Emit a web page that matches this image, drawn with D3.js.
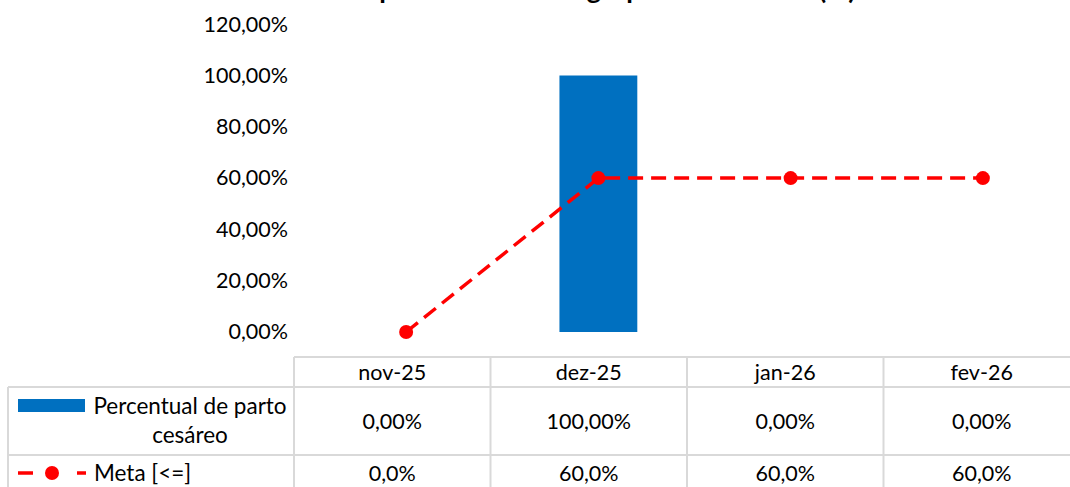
<!DOCTYPE html>
<html><head><meta charset="utf-8">
<script src="https://cdn.jsdelivr.net/npm/d3@7"></script>
<style>body{margin:0;background:#fff}svg{display:block}text{font-family:Lato,"Liberation Sans",sans-serif;fill:#000}</style>
</head><body>
<script>
const title = "Percentual de parto cesáreo no grupo 1 de Robson (%)";
const categories = ["nov-25","dez-25","jan-26","fev-26"];
const barName = "Percentual de parto cesáreo";
const barValues = [0, 1.0, 0, 0];
const metaName = "Meta [<=]";
const metaValues = [0, 0.6, 0.6, 0.6];
const yTicks = [0, 0.2, 0.4, 0.6, 0.8, 1.0, 1.2];

const W = 1070, H = 487;
const svg = d3.select("body").append("svg").attr("width", W).attr("height", H);
const fs = 21.5;
const pct2 = v => d3.format(".2f")(v*100).replace(".", ",") + "%";
const pct1 = v => d3.format(".1f")(v*100).replace(".", ",") + "%";

// title (clipped at the top edge, as in the reference)
svg.append("text").attr("x", 532).attr("y", -1).attr("text-anchor","middle")
  .style("font-weight","bold").style("font-size","27px").text(title);

const y = d3.scaleLinear().domain([0,1.2]).range([332, 24.2]);
const x = d3.scaleBand().domain(categories).range([310, 1079]).padding(0);
const bw = x.bandwidth()*0.405;

const yAxis = svg.append("g").attr("transform","translate(288,0)")
  .call(d3.axisLeft(y).tickValues(yTicks).tickSize(0).tickPadding(0).tickFormat(pct2));
yAxis.select(".domain").remove();
yAxis.selectAll("text").style("font-size", fs+"px").style("font-family","Lato,'Liberation Sans',sans-serif").attr("fill","#000");

svg.append("g").selectAll("rect").data(categories).join("rect")
  .attr("x", (c)=> x(c) + (x.bandwidth()-bw)/2)
  .attr("y", (c,i)=> y(barValues[i]))
  .attr("width", bw)
  .attr("height", (c,i)=> y(0)-y(barValues[i]))
  .attr("fill","#0070C0");

const line = d3.line().x((d,i)=> x(categories[i])+x.bandwidth()/2).y(d=>y(d));
svg.append("path").datum(metaValues).attr("d", line).attr("fill","none")
  .attr("stroke","#FF0000").attr("stroke-width",3.5).attr("stroke-dasharray","15,8");
svg.append("g").selectAll("circle").data(metaValues).join("circle")
  .attr("cx",(d,i)=> x(categories[i])+x.bandwidth()/2).attr("cy", d=>y(d)).attr("r",7).attr("fill","#FF0000");

// data table
const t = d3.scaleBand().domain(categories).range([294, 1080]);
const grid = "#d9d9d9";
const g = svg.append("g").attr("stroke", grid).attr("stroke-width", 2);
g.append("line").attr("x1",294).attr("x2",1080).attr("y1",357).attr("y2",357);
g.append("line").attr("x1",8).attr("x2",1080).attr("y1",387).attr("y2",387);
g.append("line").attr("x1",8).attr("x2",1080).attr("y1",455).attr("y2",455);
g.append("line").attr("x1",8).attr("x2",8).attr("y1",387).attr("y2",490);
g.selectAll("line.v").data(categories).join("line").attr("class","v")
  .attr("x1",c=>t(c)).attr("x2",c=>t(c)).attr("y1",357).attr("y2",490);

const cx = c => t(c)+t.bandwidth()/2;
svg.append("g").selectAll("text").data(categories).join("text")
  .attr("x",cx).attr("y",372).attr("dy","0.35em").attr("text-anchor","middle").style("font-size",fs+"px").text(c=>c);
svg.append("g").selectAll("text").data(barValues).join("text")
  .attr("x",(d,i)=>cx(categories[i])).attr("y",421).attr("dy","0.35em").attr("text-anchor","middle").style("font-size",fs+"px").text(pct2);
svg.append("g").selectAll("text").data(metaValues).join("text")
  .attr("x",(d,i)=>cx(categories[i])).attr("y",473).attr("dy","0.35em").attr("text-anchor","middle").style("font-size",fs+"px").text(pct1);

// legend keys
const lfs = 22.5;
svg.append("rect").attr("x",18).attr("y",399).attr("width",67).attr("height",13).attr("fill","#0070C0");
const words = barName.split(" ");
svg.append("text").attr("x",190).attr("y",406).attr("dy","0.35em").attr("text-anchor","middle").style("font-size",lfs+"px").text(words.slice(0,3).join(" "));
svg.append("text").attr("x",190).attr("y",435).attr("dy","0.35em").attr("text-anchor","middle").style("font-size",lfs+"px").text(words.slice(3).join(" "));
svg.append("line").attr("x1",18).attr("x2",86).attr("y1",473).attr("y2",473)
  .attr("stroke","#FF0000").attr("stroke-width",3.5).attr("stroke-dasharray","15,22,0,22,15");
svg.append("circle").attr("cx",52).attr("cy",473).attr("r",7).attr("fill","#FF0000");
svg.append("text").attr("x",94).attr("y",473).attr("dy","0.35em").style("font-size",lfs+"px").text(metaName);
</script>
</body></html>
